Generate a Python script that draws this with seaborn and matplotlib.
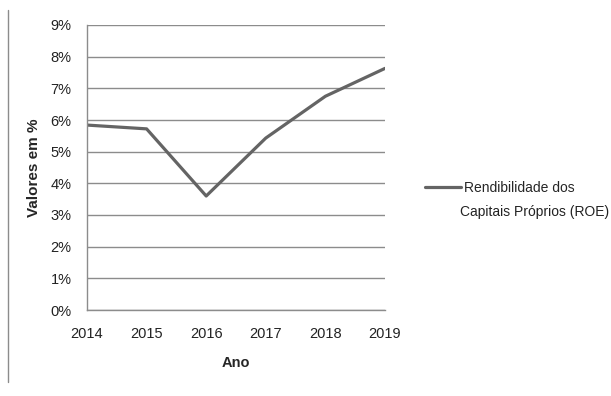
import matplotlib
matplotlib.use("Agg")
import matplotlib.pyplot as plt
import seaborn as sns
import pandas as pd
from matplotlib.lines import Line2D
from matplotlib.ticker import FuncFormatter

years = [2014, 2015, 2016, 2017, 2018, 2019]
roe = [5.84, 5.72, 3.60, 5.43, 6.75, 7.63]
series_line1 = "Rendibilidade dos"
series_line2 = "Capitais Próprios (ROE)"
yticks = [0, 1, 2, 3, 4, 5, 6, 7, 8, 9]

sns.set_style("white")
plt.rcParams['font.family'] = ['Liberation Sans', 'DejaVu Sans']

df = pd.DataFrame({"Ano": years, "ROE": roe,
                   "Serie": series_line1 + " " + series_line2})

fig = plt.figure(figsize=(6.11, 3.96), dpi=100)
ax = fig.add_axes([87/611, 1 - 310/396, (385-87)/611, (310-25)/396])

sns.lineplot(data=df, x="Ano", y="ROE", hue="Serie", palette=["#646464"],
             linewidth=2.3, ax=ax)

ax.set_xlim(2014, 2019)
ax.set_ylim(0, 9)
ax.set_yticks(yticks)
ax.set_xticks(years)
ax.yaxis.set_major_formatter(FuncFormatter(lambda v, p: f"{int(v)}%"))
ax.grid(axis="y", color="#8c8c8c", linewidth=1.0)
ax.set_axisbelow(True)
for s in ["top", "right"]:
    ax.spines[s].set_visible(False)
for s in ["left", "bottom"]:
    ax.spines[s].set_color("#8c8c8c")
    ax.spines[s].set_linewidth(1.0)
ax.tick_params(axis="both", length=5, width=1, color="#8c8c8c", labelsize=10.5,
               labelcolor="#222222")
ax.tick_params(axis="x", pad=7)
ax.tick_params(axis="y", pad=6)

ax.set_xlabel("Ano", fontsize=10.5, fontweight="bold", labelpad=11)
ax.set_ylabel("Valores em %", fontsize=11, fontweight="bold", labelpad=7)

handles, labels = ax.get_legend_handles_labels()
leg = ax.legend(handles, [series_line1], loc="center left",
                bbox_to_anchor=(425/611, 1 - 188/396), bbox_transform=fig.transFigure,
                frameon=False, fontsize=10, handlelength=2.6, handletextpad=0.2,
                borderpad=0, borderaxespad=0)
fig.text(460/611, 1 - 212/396, series_line2, fontsize=10, color="#222222",
         va="center", ha="left")

fig.add_artist(Line2D([8/611, 8/611], [1 - 10/396, 1 - 382/396], color="#8c8c8c",
                      linewidth=1.0, transform=fig.transFigure))

fig.savefig("out.png", dpi=100)
